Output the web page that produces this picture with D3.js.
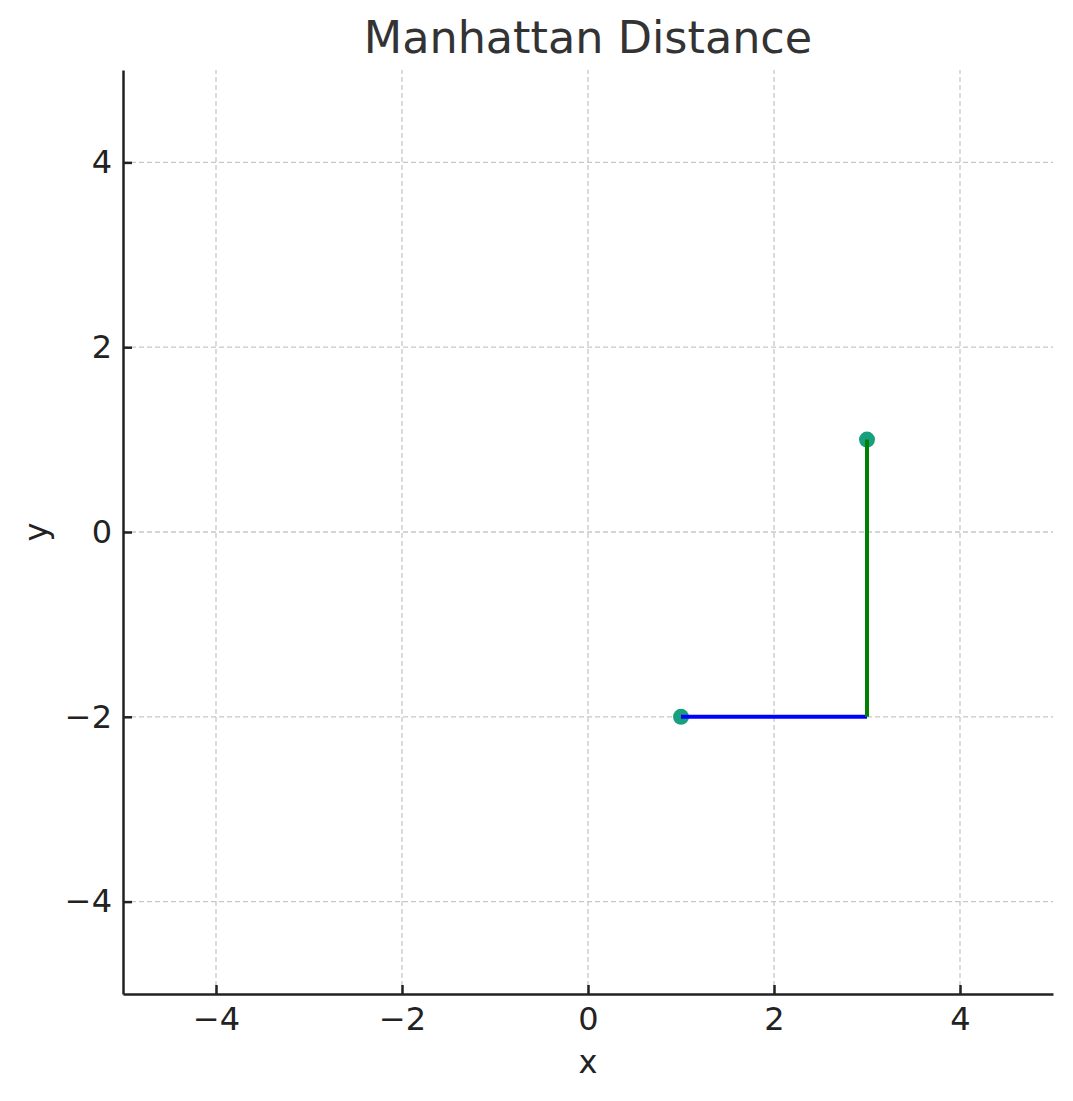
<!DOCTYPE html>
<html>
<head>
<meta charset="utf-8">
<script src="https://cdn.jsdelivr.net/npm/d3@7"></script>
<style>
  body { margin: 0; background: #fff; }
  text { font-family: "DejaVu Sans", sans-serif; }
</style>
</head>
<body>
<script>
// the two points and the path between them
var pointA = [1, -2];
var pointB = [3, 1];
var horizontalLeg = [[1, -2], [3, -2]];
var verticalLeg = [[3, -2], [3, 1]];
var xDomain = [-5, 5];
var yDomain = [-5, 5];
var xTicks = [-4, -2, 0, 2, 4];
var yTicks = [-4, -2, 0, 2, 4];

var width = 1073, height = 1101;
var margin = {top: 70, right: 20, bottom: 107, left: 123};

var svg = d3.select('body').append('svg')
  .attr('width', width).attr('height', height);

var x = d3.scaleLinear().domain(xDomain).range([margin.left, width - margin.right]);
var y = d3.scaleLinear().domain(yDomain).range([height - margin.bottom, margin.top]);

//grid
svg.append('g').selectAll('line').data(xTicks).enter().append('line')
  .attr('x1', function(d){ return x(d); }).attr('x2', function(d){ return x(d); })
  .attr('y1', y(yDomain[0])).attr('y2', y(yDomain[1]))
  .attr('stroke', '#c8c8c8').attr('stroke-width', 1.3).attr('stroke-dasharray', '5,3');
svg.append('g').selectAll('line').data(yTicks).enter().append('line')
  .attr('y1', function(d){ return y(d); }).attr('y2', function(d){ return y(d); })
  .attr('x1', x(xDomain[0])).attr('x2', x(xDomain[1]))
  .attr('stroke', '#c8c8c8').attr('stroke-width', 1.3).attr('stroke-dasharray', '5,3');

var fmt = function(d){ return d < 0 ? '\u2212' + Math.abs(d) : String(d); };

//axes, ticks pointing inward
var xAxis = svg.append('g')
  .attr('transform', 'translate(0,' + y(yDomain[0]) + ')')
  .call(d3.axisBottom(x).tickValues(xTicks).tickFormat(fmt).tickSizeInner(-9).tickSizeOuter(0).tickPadding(13));
var yAxis = svg.append('g')
  .attr('transform', 'translate(' + x(xDomain[0]) + ',0)')
  .call(d3.axisLeft(y).tickValues(yTicks).tickFormat(fmt).tickSizeInner(-9).tickSizeOuter(0).tickPadding(11));

[xAxis, yAxis].forEach(function(a){
  a.select('.domain').attr('stroke', '#222').attr('stroke-width', 2.5);
  a.selectAll('.tick line').attr('stroke', '#222').attr('stroke-width', 2.5);
  a.selectAll('.tick text').attr('fill', '#222').style('font-size', '32px');
});

//points
svg.append('g').selectAll('circle').data([pointA, pointB]).enter().append('circle')
  .attr('cx', function(d){ return x(d[0]); })
  .attr('cy', function(d){ return y(d[1]); })
  .attr('r', 8)
  .attr('fill', '#1a9f7e');

//manhattan legs
var line = d3.line().x(function(d){ return x(d[0]); }).y(function(d){ return y(d[1]); });
svg.append('path').attr('d', line(horizontalLeg))
  .attr('fill', 'none').attr('stroke', '#0000ff').attr('stroke-width', 4);
svg.append('path').attr('d', line(verticalLeg))
  .attr('fill', 'none').attr('stroke', '#008000').attr('stroke-width', 4);

//title and labels
svg.append('text').attr('x', (x(xDomain[0]) + x(xDomain[1])) / 2).attr('y', 53)
  .attr('text-anchor', 'middle').attr('fill', '#333').style('font-size', '44.5px')
  .text('Manhattan Distance');
svg.append('text').attr('x', (x(xDomain[0]) + x(xDomain[1])) / 2).attr('y', 1073)
  .attr('text-anchor', 'middle').attr('fill', '#222').style('font-size', '32px')
  .text('x');
svg.append('text')
  .attr('transform', 'translate(47,' + y(0) + ') rotate(-90)')
  .attr('text-anchor', 'middle').attr('fill', '#222').style('font-size', '32px')
  .text('y');
</script>
</body>
</html>
